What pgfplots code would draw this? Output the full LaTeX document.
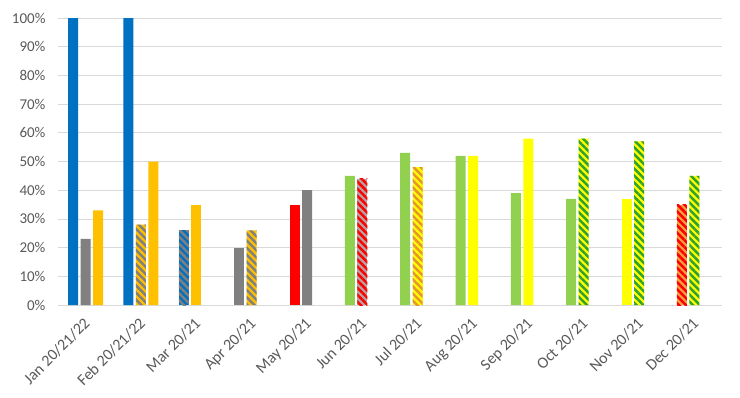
\documentclass[border=0pt]{standalone}
\usepackage{pgfplots}
\pgfplotsset{compat=1.18}
\usetikzlibrary{patterns.meta}
\usepackage{fontspec}
\setmainfont{Carlito}
\definecolor{cblue}{HTML}{0070C0}
\definecolor{cgray}{HTML}{808080}
\definecolor{cgold}{HTML}{FFC000}
\definecolor{cred}{HTML}{FF0000}
\definecolor{cgreen}{HTML}{92D050}
\definecolor{cyellow}{HTML}{FFFF00}
\definecolor{dgreen}{HTML}{2EA12E}
\definecolor{corange}{HTML}{E8962A}
\definecolor{lorange}{HTML}{F7A23B}
\definecolor{rgray}{HTML}{B4A4A4}
\definecolor{gridc}{HTML}{D9D9D9}
\definecolor{textc}{HTML}{595959}
\tikzset{stripe/.style 2 args={fill=#1, draw=none, postaction={pattern={Lines[angle=-45,distance=5pt,line width=2.5pt]}, pattern color=#2}}}
\begin{document}
\begin{tikzpicture}
\begin{axis}[
  scale only axis, width=664pt, height=287pt,
  ybar, bar width=10pt,
  xmin=-0.5, xmax=11.5, ymin=0, ymax=100,
  xtick={0,...,11},
  xticklabels={Jan 20/21/22, Feb 20/21/22, Mar 20/21, Apr 20/21, May 20/21, Jun 20/21, Jul 20/21, Aug 20/21, Sep 20/21, Oct 20/21, Nov 20/21, Dec 20/21},
  ytick={0,10,...,100},
  yticklabel={\pgfmathprintnumber{\tick}\%},
  /pgf/number format/assume math mode=true,
  ymajorgrids, grid style={gridc, line width=0.8pt},
  axis line style={draw=none}, tick style={draw=none},
  every tick label/.append style={text=textc},
  xticklabel style={font=\fontsize{16}{19}\selectfont, rotate=45, anchor=north east, inner sep=1pt, xshift=-6pt, yshift=-2pt},
  yticklabel style={font=\fontsize{15}{18}\selectfont, xshift=-9pt},
]
% solid blue
\addplot[fill=cblue, draw=none, bar shift=-12.5pt] coordinates {(0,100) (1,100)};
% solid gray slot2
\addplot[fill=cgray, draw=none, bar shift=0pt] coordinates {(0,23) (4,40)};
% solid gray slot1
\addplot[fill=cgray, draw=none, bar shift=-12.5pt] coordinates {(3,20)};
% solid gold slot3
\addplot[fill=cgold, draw=none, bar shift=12.5pt] coordinates {(0,33) (1,50)};
% solid gold slot2
\addplot[fill=cgold, draw=none, bar shift=0pt] coordinates {(2,35)};
% striped gold/gray slot2
\addplot[stripe={cgold}{cgray}, bar shift=0pt] coordinates {(1,28) (3,26)};
% striped blue/gray slot1
\addplot[stripe={cblue}{cgray}, bar shift=-12.5pt] coordinates {(2,26)};
% solid red slot1
\addplot[fill=cred, draw=none, bar shift=-12.5pt] coordinates {(4,35)};
% solid green slot1
\addplot[fill=cgreen, draw=none, bar shift=-12.5pt] coordinates {(5,45) (6,53) (7,52) (8,39) (9,37)};
% striped gray/red slot2
\addplot[stripe={rgray}{cred}, bar shift=0pt] coordinates {(5,44)};
% striped yellow/orange slot2
\addplot[stripe={cyellow}{corange}, bar shift=0pt] coordinates {(6,48)};
% solid yellow slot2
\addplot[fill=cyellow, draw=none, bar shift=0pt] coordinates {(7,52) (8,58)};
% solid yellow slot1
\addplot[fill=cyellow, draw=none, bar shift=-12.5pt] coordinates {(10,37)};
% striped yellow/green slot2
\addplot[stripe={cyellow}{dgreen}, bar shift=0pt] coordinates {(9,58) (10,57) (11,45)};
% striped orange/red slot1
\addplot[stripe={lorange}{cred}, bar shift=-12.5pt] coordinates {(11,35)};
\end{axis}
\path (current axis.south west) ++(-58pt,-92pt) rectangle ++(740pt,397pt);
\end{tikzpicture}
\end{document}
